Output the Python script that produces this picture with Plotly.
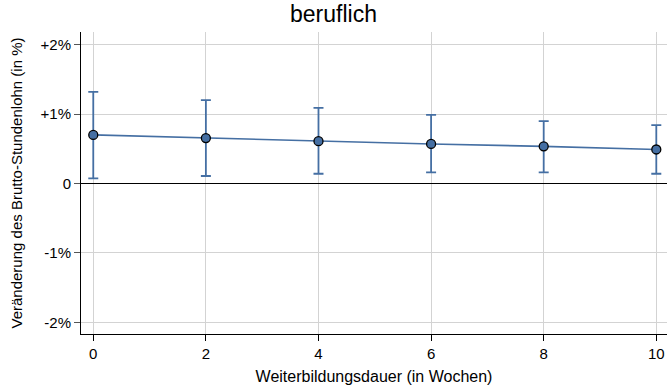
import plotly.graph_objects as go

# Weiterbildungsdauer in Wochen und geschätzter Effekt (in %)
wochen = [0, 2, 4, 6, 8, 10]
effekt = [0.70, 0.655, 0.61, 0.57, 0.535, 0.49]
ci_oben = [1.32, 1.20, 1.09, 0.99, 0.90, 0.84]
ci_unten = [0.075, 0.108, 0.14, 0.16, 0.16, 0.14]

y_ticks = [-2, -1, 0, 1, 2]
y_labels = ["-2%", "-1%", "0", "+1%", "+2%"]
x_ticks = [0, 2, 4, 6, 8, 10]

farbe = "#456fa3"

fig = go.Figure()
fig.add_trace(go.Scatter(
    x=wochen,
    y=effekt,
    mode="lines+markers",
    line=dict(color=farbe, width=1.6),
    marker=dict(size=9, color=farbe, line=dict(color="black", width=1.3)),
    error_y=dict(
        type="data",
        symmetric=False,
        array=[o - e for o, e in zip(ci_oben, effekt)],
        arrayminus=[e - u for e, u in zip(effekt, ci_unten)],
        color=farbe,
        thickness=1.8,
        width=5,
    ),
    showlegend=False,
))

fig.update_layout(
    width=667,
    height=389,
    margin=dict(l=81, r=0, t=32, b=55),
    paper_bgcolor="white",
    plot_bgcolor="white",
    font=dict(family="Liberation Sans, Arial, sans-serif", size=15, color="black"),
    title=dict(text="beruflich", x=0.5, xanchor="center", y=0.985, yanchor="top",
               font=dict(size=23, color="black")),
)

fig.update_xaxes(
    range=[-0.218, 10.19],
    tickvals=x_ticks,
    tickfont=dict(size=15),
    showgrid=True, gridcolor="#d3d3d3", gridwidth=1,
    showline=True, linecolor="black", linewidth=1,
    ticks="outside", ticklen=6, tickcolor="black",
    zeroline=False,
    title=dict(text="Weiterbildungsdauer (in Wochen)", font=dict(size=16), standoff=9),
)
fig.update_yaxes(
    range=[-2.169, 2.183],
    tickvals=y_ticks,
    ticktext=y_labels,
    tickfont=dict(size=15),
    showgrid=True, gridcolor="#d3d3d3", gridwidth=1,
    showline=True, linecolor="black", linewidth=1,
    ticks="outside", ticklen=6, tickcolor="#555555",
    zeroline=True, zerolinecolor="black", zerolinewidth=1,
    title=dict(text="Veränderung des Brutto-Stundenlohn (in %)", font=dict(size=15), standoff=14),
)

fig.write_html("out.html")
